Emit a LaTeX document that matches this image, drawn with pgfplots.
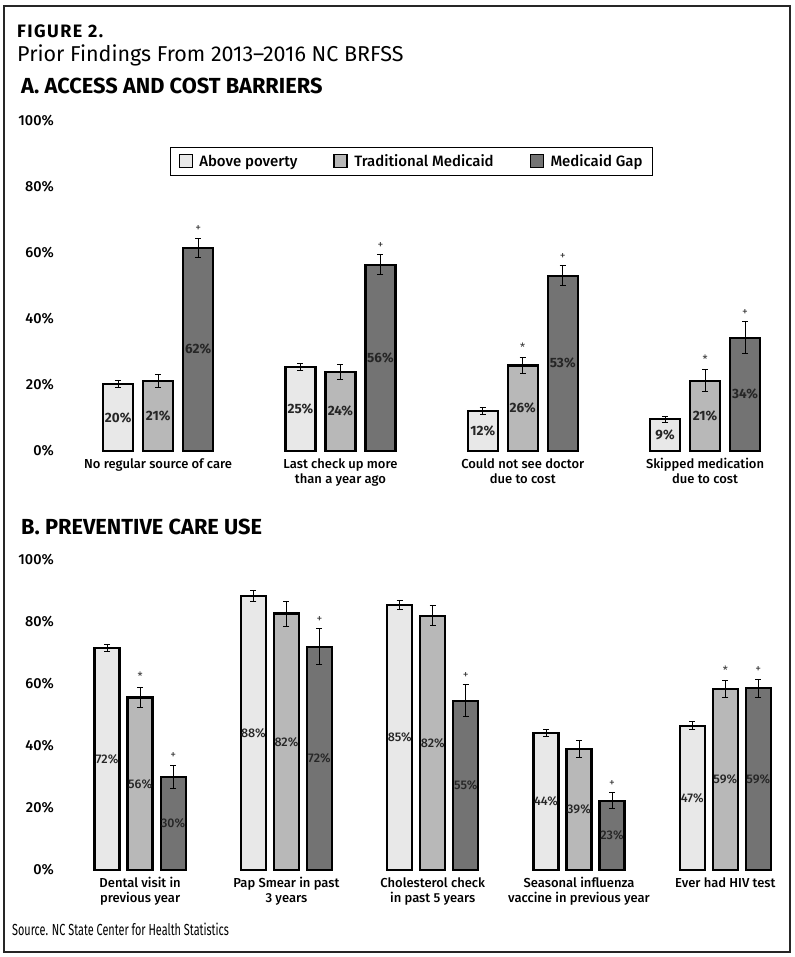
\documentclass[border=0pt]{standalone}
\usepackage{fontspec}
\setmainfont{Fira Sans}
\newfontfamily\medfont{Fira Sans Medium}
\newfontfamily\condfont[FakeStretch=0.68]{Fira Sans}
\newfontfamily\widefont[LetterSpace=8]{Fira Sans}
\usepackage{pgfplots}
\pgfplotsset{compat=1.18}
\usepackage{pgfplotstable}

\definecolor{apcol}{HTML}{E8E8E8}
\definecolor{tmcol}{HTML}{B8B8B8}
\definecolor{mgcol}{HTML}{737373}

% bar heights, half error bars, printed labels, significance flag (1 = *)
\pgfplotstableread{
x ap   apE apL tm   tmE tmL tmS mg   mgE mgL
0 20.3 1.0 20  21.3 2.0 21  0   61.6 2.9 62
1 25.5 1.0 25  24.0 2.3 24  0   56.4 3.0 56
2 12.2 1.0 12  25.9 2.3 26  1   53.1 3.0 53
3  9.6 1.0  9  21.3 3.3 21  1   34.3 4.8 34
}\accessdata

\pgfplotstableread{
x ap   apE apL tm   tmE tmL tmS mg   mgE mgL
0 71.7 1.2 72  55.6 3.3 56  1   30.1 3.7 30
1 88.5 1.8 88  82.7 4.0 82  0   72.0 5.8 72
2 85.5 1.5 85  82.0 3.2 82  0   54.6 5.2 55
3 44.3 1.1 44  39.1 2.8 39  0   22.3 2.6 23
4 46.5 1.3 47  58.4 2.7 59  1   58.6 3.0 59
}\careuse

\pgfplotsset{
  panel/.style={
    scale only axis, clip=false,
    axis line style={draw=none}, tick style={draw=none},
    ymin=0, ymax=100, ytick={0,20,...,100},
    yticklabels={0\%,20\%,40\%,60\%,80\%,100\%},
    every y tick label/.style={anchor=east, align=right, inner sep=0pt, xshift=-13pt, font=\medfont\fontsize{14.5}{16}\selectfont},
    every x tick label/.style={align=center, anchor=north, inner sep=0pt, yshift=-7pt, font=\medfont\fontsize{13}{15}\selectfont},
  },
  bars/.style 2 args={
    ybar, bar width=#1, bar shift=0pt, draw=black, line width=2.3pt, fill=#2,
    legend image code/.code={\draw[##1, line width=1.3pt] (0pt,-6.5pt) rectangle (13pt,6.5pt); \path (17pt,0pt);},
    error bars/.cd, y dir=both, y explicit,
    error bar style={line width=1pt, black},
    error mark options={rotate=90, mark size=3pt, line width=1pt, black},
    /pgfplots/.cd
  },
  vals/.style 2 args={
    point meta=explicit symbolic,
    nodes near coords={\pgfplotspointmeta\%},
    visualization depends on={rawy \as \rawy},
    every node near coord/.append style={anchor=center, yshift=-#1*\rawy, text=black!85, font=#2},
  },
  sig/.style={
    ybar, bar width=#1, bar shift=0pt, draw=none, fill=none, forget plot,
    every node near coord/.append style={anchor=south, yshift=3pt, text=black!80, font=\fontsize{11.5}{12}\selectfont},
  },
}

\begin{document}
\begin{tikzpicture}[x=1pt, y=1pt]
\path[use as bounding box] (0,0) rectangle (794,-957);
\draw[line width=1.2pt, black!85] (4,-6) rectangle (790,-952);

\node[anchor=base west, inner sep=0pt, font=\widefont\bfseries\fontsize{18}{20}\selectfont] at (17,-38) {FIGURE 2.};
\node[anchor=base west, inner sep=0pt, font=\fontsize{21.5}{23}\selectfont] at (17,-62) {Prior Findings From 2013--2016 NC BRFSS};
\node[anchor=base west, inner sep=0pt, font=\bfseries\fontsize{21.8}{23}\selectfont] at (21,-94) {A. ACCESS AND COST BARRIERS};
\node[anchor=base west, inner sep=0pt, font=\bfseries\fontsize{21.8}{23}\selectfont] at (21,-534) {B. PREVENTIVE CARE USE};
\node[anchor=base west, inner sep=0pt, font=\condfont\fontsize{16}{18}\selectfont] at (12,-935) {Source. NC State Center for Health Statistics};

% Panel A: one group every 182.3pt, bars 40pt apart (0.2194 units)
\begin{axis}[panel, at={(67pt,-451pt)}, anchor=south west,
    width=683.6pt, height=330pt, xmin=-0.5, xmax=3.25,
    xtick={0,1,2,3},
    xticklabels={No regular source of care, {Last check up more\\than a year ago}, {Could not see doctor\\due to cost}, {Skipped medication\\due to cost}},
    legend style={at={(0.504,0.921)}, anchor=north, legend columns=3, draw=black, line width=1pt,
      inner xsep=8pt, inner ysep=5pt, font=\medfont\fontsize{15}{17}\selectfont,
      /tikz/every even column/.append style={column sep=34pt}},
  ]
\addplot[bars={30pt}{apcol}, vals={1.65pt}{\bfseries\fontsize{13.5}{15}\selectfont}]
  table[x expr=\thisrow{x}-0.2194, y=ap, y error=apE, meta=apL] {\accessdata};
\addplot[bars={30pt}{tmcol}, vals={1.65pt}{\bfseries\fontsize{13.5}{15}\selectfont}]
  table[x=x, y=tm, y error=tmE, meta=tmL] {\accessdata};
\addplot[bars={30pt}{mgcol}, vals={1.65pt}{\bfseries\fontsize{13.5}{15}\selectfont}]
  table[x expr=\thisrow{x}+0.2194, y=mg, y error=mgE, meta=mgL] {\accessdata};
\addplot[sig=30pt, point meta=explicit symbolic, nodes near coords={\ifcase\pgfplotspointmeta\or*\fi}]
  table[x=x, y expr=\thisrow{tm}+\thisrow{tmE}, meta=tmS] {\accessdata};
\addplot[sig=30pt, nodes near coords={+}]
  table[x expr=\thisrow{x}+0.2194, y expr=\thisrow{mg}+\thisrow{mgE}] {\accessdata};
\legend{Above poverty, Traditional Medicaid, Medicaid Gap}
\end{axis}

% Panel B: one group every 146.3pt, bars 33pt apart (0.2256 units)
\begin{axis}[panel, at={(67pt,-870pt)}, anchor=south west,
    width=702.2pt, height=310pt, xmin=-0.5, xmax=4.3,
    xtick={0,1,2,3,4},
    xticklabels={{Dental visit in\\previous year}, {Pap Smear in past\\3 years}, {Cholesterol check\\in past 5 years}, {Seasonal influenza\\vaccine in previous year}, {Ever had HIV test}},
  ]
\addplot[bars={25pt}{apcol}, vals={1.55pt}{\medfont\fontsize{12.5}{14}\selectfont}]
  table[x expr=\thisrow{x}-0.2256, y=ap, y error=apE, meta=apL] {\careuse};
\addplot[bars={25pt}{tmcol}, vals={1.55pt}{\medfont\fontsize{12.5}{14}\selectfont}]
  table[x=x, y=tm, y error=tmE, meta=tmL] {\careuse};
\addplot[bars={25pt}{mgcol}, vals={1.55pt}{\medfont\fontsize{12.5}{14}\selectfont}]
  table[x expr=\thisrow{x}+0.2256, y=mg, y error=mgE, meta=mgL] {\careuse};
\addplot[sig=25pt, point meta=explicit symbolic, nodes near coords={\ifcase\pgfplotspointmeta\or*\fi}]
  table[x=x, y expr=\thisrow{tm}+\thisrow{tmE}, meta=tmS] {\careuse};
\addplot[sig=25pt, nodes near coords={+}]
  table[x expr=\thisrow{x}+0.2256, y expr=\thisrow{mg}+\thisrow{mgE}] {\careuse};
\end{axis}
\end{tikzpicture}
\end{document}
